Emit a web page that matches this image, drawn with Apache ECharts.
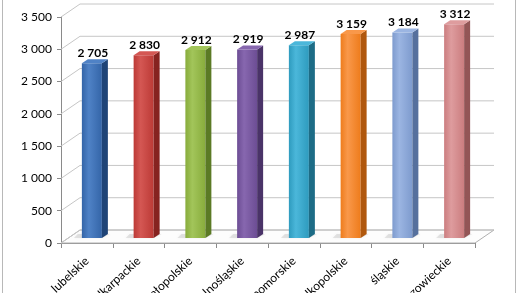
<!DOCTYPE html>
<html><head><meta charset="utf-8">
<script src="https://cdn.jsdelivr.net/npm/echarts@6/dist/echarts.min.js"></script>
<style>html,body{margin:0;padding:0;background:#fff}#c{width:522px;height:293px}</style>
</head><body><div id="c"></div>
<script>
const categories = ['lubelskie','podkarpackie','małopolskie','dolnośląskie','pomorskie','wielkopolskie','śląskie','mazowieckie'];
const values = [2705, 2830, 2912, 2919, 2987, 3159, 3184, 3312];
const yTicks = [0, 500, 1000, 1500, 2000, 2500, 3000, 3500];
const frontColors = ['#3465A8','#BC3A36','#88AC3C','#6C4D94','#2E9BBE','#EE7C1C','#7E9BCE','#CB7D7F'];
const lightColors = ['#4F82C6','#D45753','#A2C55A','#8767AF','#4BB7DA','#F9984A','#9BB5E2','#DE9C9E'];
const sideColors  = ['#1F4477','#862320','#5B7A25','#4A3368','#1D6C86','#B0580E','#56709D','#935556'];

const fmt = v => String(v).replace(/\B(?=(\d{3})+(?!\d))/g, ' ');

const DX = 19, DY = -13;       // wall depth
const BX = 5, BY = -5;         // bar position within depth
const BD = 6, BDY = -4;        // bar depth
const FACE = 20;

const chart = echarts.init(document.getElementById('c'), null, {renderer: 'canvas'});
chart.setOption({
  animation: false,
  backgroundColor: '#fff',
  grid: {left: 61, top: 17, width: 414, height: 226, containLabel: false, outerBoundsMode: 'none'},
  xAxis: {
    type: 'category', data: categories,
    axisLine: {show: true, lineStyle: {color: '#8a8a8a'}},
    axisTick: {show: true, length: 5, lineStyle: {color: '#8a8a8a'}},
    axisLabel: {rotate: 43, margin: 16, color: '#000', fontFamily: 'Lato', fontSize: 12, interval: 0}
  },
  yAxis: {
    type: 'value', min: 0, max: 3500, interval: 500,
    axisLine: {show: true, lineStyle: {color: '#8a8a8a'}},
    axisTick: {show: true, length: 4, lineStyle: {color: '#8a8a8a'}},
    splitLine: {show: false},
    axisLabel: {color: '#000', fontFamily: 'Lato', fontSize: 12, margin: 9, formatter: fmt}
  },
  graphic: [{
    type: 'rect', shape: {x: 2.5, y: -5, width: 513, height: 310, r: 4},
    style: {fill: 'none', stroke: '#b8b8b8', lineWidth: 1}, silent: true
  }],
  series: [
    {
      type: 'custom', z: 1,
      data: yTicks.map(v => [0, v]),
      renderItem: function (params, api) {
        const v = api.value(1);
        const p0 = api.coord([0, v]);
        const band = api.size([1, 0])[0];
        const xl = p0[0] - band / 2;
        const xr = xl + band * categories.length;
        const y = p0[1];
        const children = [];
        if (v === 0) {
          children.push({
            type: 'polygon',
            shape: {points: [[xl, y], [xr, y], [xr + DX, y + DY], [xl + DX, y + DY]]},
            style: {fill: '#fdfdfd', stroke: '#b0b0b0', lineWidth: 1}
          });
        }
        children.push({
          type: 'polyline',
          shape: {points: [[xl, y], [xl + DX, y + DY], [xr + DX, y + DY]]},
          style: {stroke: '#c6c6c6', lineWidth: 1, fill: 'none'}
        });
        return {type: 'group', children: children};
      }
    },
    {
      type: 'custom', z: 3,
      data: values.map((v, i) => [i, v]),
      renderItem: function (params, api) {
        const i = api.value(0), v = api.value(1);
        const b = api.coord([i, 0]);
        const t = api.coord([i, v]);
        const x0 = b[0] + BX - FACE / 2, x1 = x0 + FACE;
        const yb = b[1] + BY, yt = t[1] + BY;
        return {
          type: 'group',
          children: [
            {type: 'polygon', shape: {points: [[x0 - 8, yb], [x1, yb], [x1 + BD + 2, yb + BDY], [x0 - 4, yb + BDY]]},
             style: {fill: 'rgba(160,160,160,0.25)', shadowBlur: 3, shadowColor: 'rgba(150,150,150,0.4)'}},
            {type: 'rect', shape: {x: x0, y: yt, width: FACE, height: yb - yt},
             style: {fill: new echarts.graphic.LinearGradient(0, 0, 1, 0, [
               {offset: 0, color: frontColors[i]},
               {offset: 0.35, color: lightColors[i]},
               {offset: 1, color: frontColors[i]}
             ])}},
            {type: 'polygon', shape: {points: [[x1, yt], [x1 + BD, yt + BDY], [x1 + BD, yb + BDY], [x1, yb]]},
             style: {fill: sideColors[i]}},
            {type: 'polygon', shape: {points: [[x0, yt], [x1, yt], [x1 + BD, yt + BDY], [x0 + BD, yt + BDY]]},
             style: {fill: lightColors[i]}},
            {type: 'text', x: (x0 + x1) / 2 + 1, y: yt - 10,
             style: {text: fmt(v), fill: '#000', font: 'bold 12px Lato', align: 'center', verticalAlign: 'middle'}}
          ]
        };
      }
    }
  ]
});
</script></body></html>
